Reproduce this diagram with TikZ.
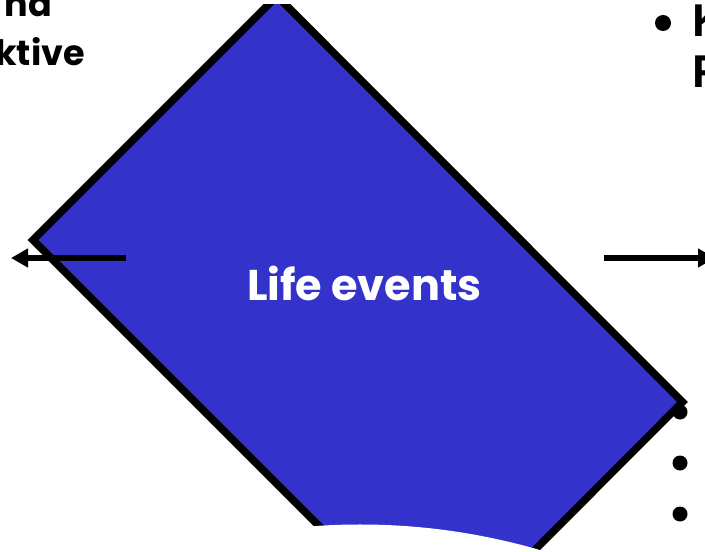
\documentclass[tikz,border=0pt]{standalone}
\usepackage{fontspec}
\setmainfont{Poppins}
\newfontfamily\kfont{Liberation Sans}
\usetikzlibrary{arrows.meta}
\definecolor{fillblue}{RGB}{51,51,204}
\begin{document}
\begin{tikzpicture}[x=1bp,y=-1bp,
  panel/.style={draw=black, line width=7.5bp, fill=fillblue, line join=miter},
  arrowline/.style={line width=5.5bp, -{Triangle[length=17bp,width=18bp]}},
  dot/.style={circle, fill=black, draw=none, inner sep=0pt, minimum size=#1},
  lbl/.style={font=\bfseries\fontsize{35bp}{42bp}\selectfont, inner sep=0pt},
  klbl/.style={font=\kfont\bfseries\fontsize{46bp}{50bp}\selectfont, inner sep=0pt},
  title/.style={font=\bfseries\fontsize{43bp}{50bp}\selectfont, text=white, inner sep=0pt}]
\useasboundingbox (0,0) rectangle (705,552);
\clip (0,0) rectangle (705,552);
% top-left partial text
\node[lbl, anchor=base east] (t1) at (52,17) {nd};
\node[lbl, anchor=base east] (t2) at (85,66) {ktive};
% top-right bullet and letters
\node[dot=16bp] (b0) at (663,23) {};
\node[klbl, anchor=base west] (k1) at (692,37) {K};
\node[klbl, anchor=base west] (k2) at (692,88) {F};
% right bullets
\node[dot=15bp] (b1) at (680,412) {};
\node[dot=15bp] (b2) at (680,463) {};
\node[dot=15bp] (b3) at (680,514) {};
% panel
\begin{scope}
  \clip (0,4.3) rectangle (705,552);
  \path[panel] (33,240) -- (277,-4) -- (682.5,402) -- (439,646) -- cycle;
\end{scope}
\fill[white] (360,1166.5) circle (642bp);
% title
\node[title, anchor=base] (life) at (364.5,300) {Life events};
% arrows
\coordinate (ls) at (126,258);
\coordinate (le) at (11,258);
\coordinate (rs) at (604,258);
\coordinate (re) at (715,258);
\draw[arrowline] (ls) -- (le);
\draw[arrowline] (rs) -- (re);
\end{tikzpicture}
\end{document}
